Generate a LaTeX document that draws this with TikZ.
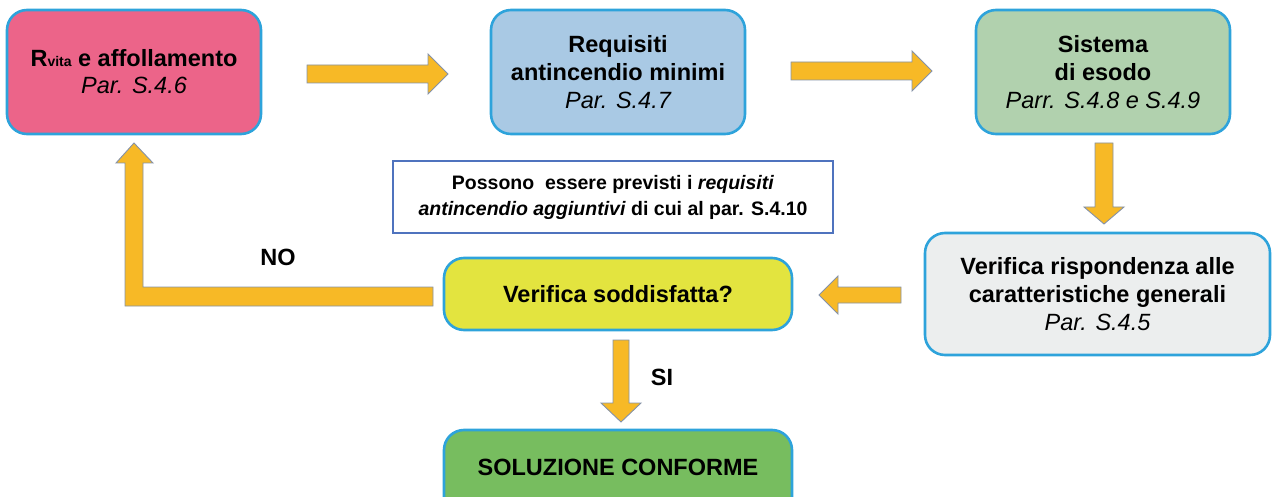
\documentclass[tikz,border=0pt]{standalone}
\usepackage{fontspec}
\setmainfont{Liberation Sans}
\usetikzlibrary{calc}
\definecolor{bord}{HTML}{2EA3DB}
\definecolor{pinkbox}{HTML}{EC6489}
\definecolor{bluebox}{HTML}{A9C9E4}
\definecolor{greenbox}{HTML}{B1D1AE}
\definecolor{greybox}{HTML}{ECEEEE}
\definecolor{yelbox}{HTML}{E3E43F}
\definecolor{okbox}{HTML}{77BD5F}
\definecolor{arrfill}{HTML}{F7B926}
\definecolor{arrline}{HTML}{8592A8}
\definecolor{notebord}{HTML}{4F73BE}
\begin{document}
\begin{tikzpicture}[x=1pt,y=-1pt,
  box/.style={draw=bord,line width=2.6pt,rounded corners=20pt,align=center,
    inner sep=0pt,font=\fontsize{23.5}{28}\selectfont\bfseries},
  barrow/.style={fill=arrfill,draw=arrline,line width=0.9pt,line join=miter},
  lbl/.style={font=\fontsize{23.5}{28}\selectfont\bfseries}]
\useasboundingbox (0,0) rectangle (1272,497);
\clip (0,0) rectangle (1272,497);
% boxes
\node[box,fill=pinkbox,minimum width=254pt,minimum height=124pt] (A) at (134,72)
  {R{\fontsize{14}{14}\selectfont vita} e affollamento\\[-1pt]\mdseries\itshape Par. S.4.6};
\node[box,fill=bluebox,minimum width=254pt,minimum height=124pt] (B) at (618,72)
  {Requisiti\\antincendio minimi\\\mdseries\itshape Par. S.4.7};
\node[box,fill=greenbox,minimum width=254pt,minimum height=124pt] (C) at (1103,72)
  {Sistema\\di esodo\\\mdseries\itshape Parr. S.4.8 e S.4.9};
\node[box,fill=greybox,minimum width=345pt,minimum height=122pt] (D) at (1097.5,294)
  {Verifica rispondenza alle\\caratteristiche generali\\\mdseries\itshape Par. S.4.5};
\node[box,fill=yelbox,minimum width=348pt,minimum height=72pt] (E) at (618,294)
  {Verifica soddisfatta?};
\node[box,fill=okbox,minimum width=348pt,minimum height=110pt,text depth=0pt] (F) at (618,485)
  {};
\node[lbl] (Ft) at (618,467) {SOLUZIONE CONFORME};
\node[draw=notebord,line width=1.1pt,minimum width=440pt,minimum height=72pt,align=center,
  inner sep=0pt,font=\fontsize{19.5}{26}\selectfont\bfseries] (N) at (613,197)
  {Possono\ \ essere previsti i \textit{requisiti}\\\textit{antincendio aggiuntivi} di cui al par. S.4.10};
% labels
\node[lbl] (no) at (278,257) {NO};
\node[lbl] (si) at (662,377) {SI};
% block arrows
% A -> B
\draw[barrow] (307,65) -- (428,65) -- (428,54) -- (448,74) -- (428,94) -- (428,83) -- (307,83) -- cycle;
% B -> C
\draw[barrow] (791,62) -- (912,62) -- (912,51) -- (932,71) -- (912,91) -- (912,80) -- (791,80) -- cycle;
% C -> D
\draw[barrow] (1095,143) -- (1113,143) -- (1113,207) -- (1124,207) -- (1104,224) -- (1084,207) -- (1095,207) -- cycle;
% D -> E
\draw[barrow] (901,287) -- (838,287) -- (838,276) -- (819,295) -- (838,314) -- (838,303) -- (901,303) -- cycle;
% E -> F
\draw[barrow] (613,340) -- (629,340) -- (629,403) -- (641,403) -- (621,422) -- (601,403) -- (613,403) -- cycle;
% E -> A (NO loop)
\draw[barrow] (433,287) -- (143,287) -- (143,163) -- (153,163) -- (134,143) -- (116,163) -- (125,163) -- (125,306) -- (433,306) -- cycle;
\end{tikzpicture}
\end{document}
